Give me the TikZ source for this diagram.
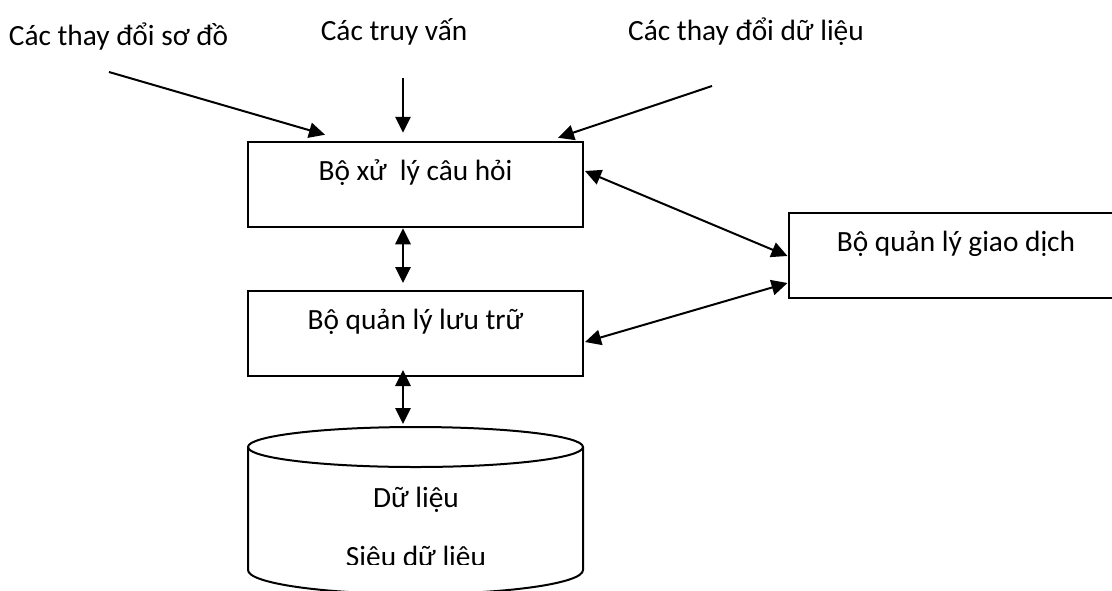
\documentclass[tikz,border=0pt]{standalone}
\usepackage{fontspec}
\setmainfont{Carlito}
\usetikzlibrary{arrows.meta,calc}
\begin{document}
\begin{tikzpicture}[x=0.75pt,y=-0.75pt,
  every node/.style={font=\fontsize{22}{26}\selectfont},
  lbl/.style={anchor=base,inner sep=0pt},
  boxnode/.style={draw,line width=1.5pt,inner sep=0pt,outer sep=0pt,
    minimum width=251.25pt,minimum height=63.75pt,text height=13pt,text depth=19pt},
  arr/.style={line width=1.5pt,-{Triangle[length=12pt,width=11.5pt]}},
  darr/.style={line width=1.5pt,{Triangle[length=12pt,width=11.5pt]}-{Triangle[length=12pt,width=11.5pt]}}
]
\useasboundingbox (0,0) rectangle (1112,590);
\clip (0,0) rectangle (1112,590);
% labels
\node[lbl] (l1) at (118.5,45) {Các thay đổi sơ đồ};
\node[lbl] (l2) at (394,40) {Các truy vấn};
\node[lbl] (l3) at (746,40) {Các thay đổi dữ liệu};
% boxes
\node[boxnode] (qp) at (415.5,184.75) {Bộ xử\ \ lý câu hỏi};
\node[boxnode] (sm) at (415.5,333.5) {Bộ quản lý lưu trữ};
\node[boxnode] (tm) at (956,255.5) {Bộ quản lý giao dịch};
% cylinder
\coordinate (dbtop) at (415.5,427);
\draw[line width=1.5pt] (248,447) -- (248,570) arc[start angle=180,end angle=360,x radius=125.625pt,y radius=18pt] -- (583,447);
\draw[line width=1.5pt] (415.5,447) ellipse [x radius=125.625pt,y radius=15pt];
\node[lbl] (d1) at (416,507) {Dữ liệu};
\begin{scope}
\clip (0,0) rectangle (1112,564);
\node[lbl] (d2) at (416,566) {Siêu dữ liệu};
\end{scope}
% input arrows
\coordinate (s1) at (109,72);
\coordinate (s2) at (403,78);
\coordinate (s3) at (712,86);
\draw[arr] (s1) -- ($(qp.north west)+(77,-7.5)$);
\draw[arr] (s2) -- ($(qp.north)+(-12.5,-9.5)$);
\draw[arr] (s3) -- ($(qp.north east)+(-25,-4.5)$);
% double arrows
\draw[darr] ($(qp.east)+(2,-13.75)$) -- ($(tm.west)+(-1,0.5)$);
\draw[darr] ($(sm.east)+(2,8.5)$) -- ($(tm.west)+(-1,27.5)$);
\draw[darr] ($(qp.south)+(-12.5,1)$) -- ($(sm.north)+(-12.5,-8)$);
\draw[darr] ($(sm.south)+(-12.5,-6)$) -- ($(dbtop)+(-12.5,-3)$);
\end{tikzpicture}
\end{document}
